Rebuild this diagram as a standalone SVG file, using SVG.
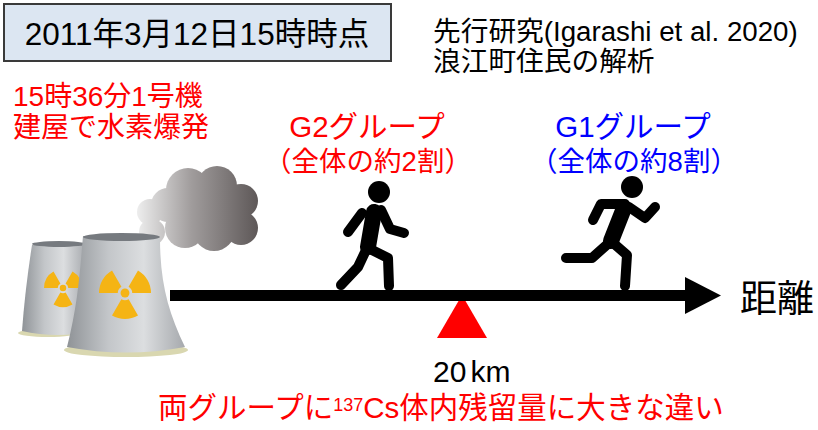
<svg xmlns="http://www.w3.org/2000/svg" width="818" height="430" viewBox="0 0 818 430">
  <style>
    text { font-family: "Liberation Sans", "Noto Sans CJK JP", sans-serif; }
    .black { fill: #000000; }
    .red { fill: #ff0000; }
    .blue { fill: #0000ff; }
    .limb { fill: none; stroke: #000000; stroke-width: 10; stroke-linecap: round; stroke-linejoin: round; }
    .trunk { fill: none; stroke: #000000; stroke-width: 16; stroke-linecap: round; stroke-linejoin: round; }
    .tower { fill: url(#towerShade); }
    .rim { fill: #767a7f; }
    .trefoil { fill: #f5b414; }
  </style>
  <defs>
    <linearGradient id="towerShade" x1="0" y1="0" x2="1" y2="0">
      <stop offset="0" stop-color="#8f9397"/>
      <stop offset="0.35" stop-color="#c3c6c9"/>
      <stop offset="0.65" stop-color="#dcdee0"/>
      <stop offset="1" stop-color="#a6a9ad"/>
    </linearGradient>
    <linearGradient id="smokeShade" gradientUnits="userSpaceOnUse" x1="138" y1="0" x2="257" y2="0">
      <stop offset="0" stop-color="#ececec"/>
      <stop offset="0.45" stop-color="#a09c9c"/>
      <stop offset="1" stop-color="#5f5959"/>
    </linearGradient>
    <!-- one blade of the radiation trefoil, unit radius, pointing down -->
    <path id="blade" d="M 0.14 0.24 L 0.5 0.866 A 1 1 0 0 1 -0.5 0.866 L -0.14 0.24 A 0.28 0.28 0 0 0 0.14 0.24 Z"/>
    <g id="trefoilSign">
      <circle cx="0" cy="0" r="0.17"/>
      <use href="#blade"/>
      <use href="#blade" transform="rotate(120)"/>
      <use href="#blade" transform="rotate(240)"/>
    </g>
  </defs>

  <rect width="818" height="430" fill="#ffffff"/>

  <!-- date box -->
  <g id="date-box">
    <rect x="4" y="4" width="387" height="57" fill="#dce6f2" stroke="#3a3a3a" stroke-width="2"/>
    <text x="197" y="45" font-size="31.5" text-anchor="middle" class="black">2011年3月12日15時時点</text>
  </g>

  <!-- study reference -->
  <g id="study-note">
    <text x="433" y="41" font-size="27.7" class="black">先行研究(Igarashi et al. 2020)</text>
    <text x="433" y="71" font-size="27.7" class="black">浪江町住民の解析</text>
  </g>

  <!-- explosion note -->
  <g id="explosion-note">
    <text x="13" y="106" font-size="28" class="red">15時36分1号機</text>
    <text x="13" y="137" font-size="28" class="red">建屋で水素爆発</text>
  </g>

  <!-- power plant with smoke -->
  <g id="power-plant">
    <g id="smoke" fill="url(#smokeShade)">
      <circle cx="150" cy="212" r="13"/>
      <circle cx="152" cy="232" r="13"/>
      <circle cx="168" cy="205" r="17"/>
      <circle cx="188" cy="190" r="22"/>
      <circle cx="217" cy="186" r="20"/>
      <circle cx="241" cy="201" r="17"/>
      <circle cx="241" cy="228" r="17"/>
      <circle cx="214" cy="230" r="21"/>
      <circle cx="185" cy="228" r="20"/>
      <circle cx="208" cy="208" r="24"/>
    </g>
    <ellipse cx="48" cy="333" rx="30" ry="4" fill="#d9d7b0"/>
    <path class="tower" d="M 32 245 Q 25 290 22 331 Q 48 337 76 334 L 86 244 Q 59 240 32 245 Z"/>
    <ellipse class="rim" cx="59" cy="244" rx="27" ry="3"/>
    <use href="#trefoilSign" class="trefoil" transform="translate(63 288) scale(19)"/>
    <ellipse cx="126" cy="350" rx="62" ry="7" fill="#d9d7b0"/>
    <path class="tower" d="M 83 236 C 80 270 78 305 67 347 Q 126 358 185 347 C 168 312 160 282 160 238 Z"/>
    <ellipse class="rim" cx="121.5" cy="237" rx="38.5" ry="4"/>
    <use href="#trefoilSign" class="trefoil" transform="translate(125 293) scale(26)"/>
  </g>

  <!-- distance axis and 20 km marker -->
  <g id="connectors">
    <polygon points="462,295 437,338 487,338" fill="#ff0000"/>
    <rect x="170" y="290" width="518" height="11" fill="#000000"/>
    <polygon points="685,277 721,295.5 685,314" fill="#000000"/>
  </g>

  <g id="distance-label">
    <text x="740" y="312" font-size="37" class="black">距離</text>
  </g>

  <g id="marker-label">
    <text x="433" y="382" font-size="30" class="black">20<tspan dx="4">km</tspan></text>
  </g>

  <!-- G2 group: walking figure -->
  <g id="g2-group">
    <text x="367" y="137" font-size="29.5" text-anchor="middle" class="red">G2グループ</text>
    <text x="368" y="171" font-size="27.5" text-anchor="middle" class="red">（全体の約2割）</text>
    <circle cx="379" cy="192" r="11" fill="#000000"/>
    <path class="trunk" d="M 374 212 L 368 247"/>
    <path class="limb" d="M 362 213 L 348 232"/>
    <path class="limb" d="M 381 210 L 390 229 L 404 233"/>
    <path class="limb" d="M 367 248 L 358 267 L 341 285"/>
    <path class="limb" d="M 370 249 L 388 258 L 389 286"/>
  </g>

  <!-- G1 group: running figure -->
  <g id="g1-group">
    <text x="633" y="137" font-size="29.5" text-anchor="middle" class="blue">G1グループ</text>
    <text x="634" y="171" font-size="27.5" text-anchor="middle" class="blue">（全体の約8割）</text>
    <circle cx="632" cy="187" r="11" fill="#000000"/>
    <path class="trunk" d="M 624 208 L 611 241"/>
    <path class="limb" d="M 625 204 L 601 204 L 593 220"/>
    <path class="limb" d="M 629 207 L 645 218 L 655 207"/>
    <path class="limb" d="M 610 242 L 592 258 L 566 258"/>
    <path class="limb" d="M 612 242 L 627 255 L 625 286"/>
  </g>

  <!-- conclusion -->
  <g id="conclusion">
    <text x="158" y="418" font-size="29.5" class="red">両グループに<tspan font-size="18" dy="-7">137</tspan><tspan dy="7">Cs体内残留量に大きな違い</tspan></text>
  </g>
</svg>
